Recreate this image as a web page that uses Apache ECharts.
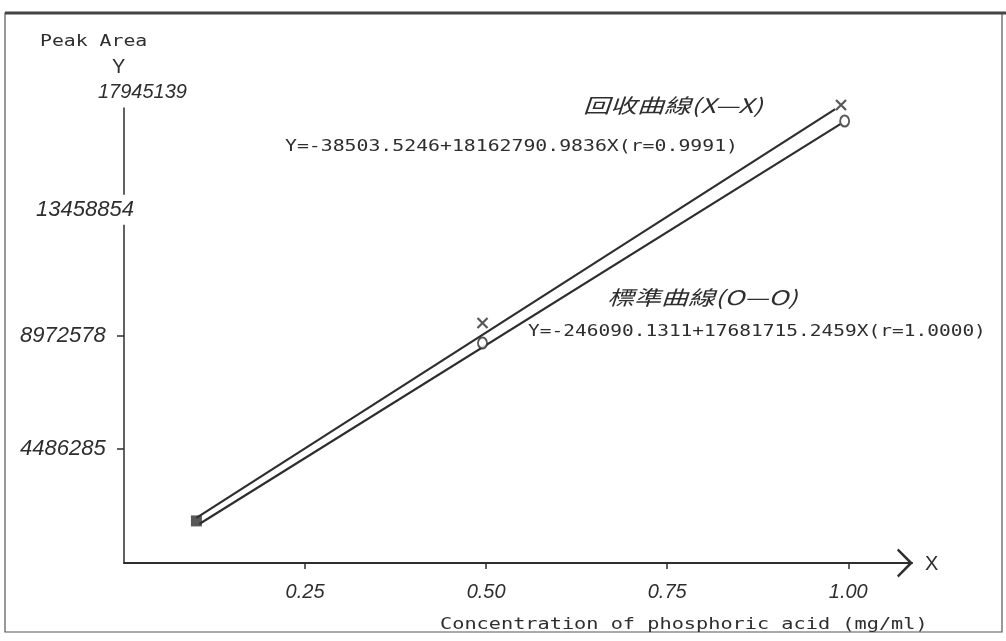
<!DOCTYPE html>
<html>
<head>
<meta charset="utf-8">
<script src="https://cdn.jsdelivr.net/npm/echarts@6/dist/echarts.min.js"></script>
<style>html,body{margin:0;padding:0;background:#fff;}#c{width:1006px;height:641px;}</style>
</head>
<body>
<div id="c"></div>
<script>
// ---- data ----
const xTicks = [0.25, 0.5, 0.75, 1.0];
const xTickLabels = ['0.25', '0.50', '0.75', '1.00'];
const yTicks = [4486285, 8972578, 13458854, 17945139];
const yTickLabels = ['4486285', '8972578', '13458854', '17945139'];
const sharedStart = [[0.1, 1660000]];
const recoveryPoints = [[0.495, 9466000], [0.99, 18064000]];
const standardPoints = [[0.495, 8677000], [0.995, 17432000]];
const recoveryLine = [[0.1, 1777776], [0.982, 17900000]];
const standardLine = [[0.104, 1540000], [0.989, 17310000]];
const recoveryName = '回收曲線(X—X)';
const standardName = '標準曲線(O—O)';
const recoveryEq = 'Y=-38503.5246+18162790.9836X(r=0.9991)';
const standardEq = 'Y=-246090.1311+17681715.2459X(r=1.0000)';
const xName = 'Concentration of phosphoric acid (mg/ml)';
const yName = 'Peak Area';

const ink = '#2e2e2e';
function hand(size) { return {fontFamily: 'Liberation Sans', fontStyle: 'italic', fontSize: size, color: ink}; }
const mono = 'DejaVu Sans Mono';

const chart = echarts.init(document.getElementById('c'), null, {renderer: 'canvas'});

const yRich = {
  y0: Object.assign({padding: [0, 0, 0, 6]}, hand(22)),
  y1: Object.assign({padding: [0, 0, 0, 6]}, hand(22)),
  y2: Object.assign({padding: [4, 0, 4, 22], backgroundColor: '#fff'}, hand(22)),
  y3: Object.assign({padding: [0, 0, 0, 84]}, hand(20)),
  sp24: {lineHeight: 24, fontSize: 10},
  sp32: {lineHeight: 32, fontSize: 10}
};

function yFmt(v) {
  const i = yTicks.indexOf(v);
  if (i < 0) return '';
  const t = yTickLabels[i];
  if (i === 2) return '{y2|' + t + '}\n{sp24| }';
  if (i === 3) return '{y3|' + t + '}\n{sp32| }';
  return '{y' + i + '|' + t + '}';
}

function monoText(txt, x, y, scale, size) {
  return {
    type: 'text', x: x, y: y, scaleX: scale, scaleY: 1,
    style: {text: txt, font: (size || 15) + 'px "' + mono + '"', fill: ink, textAlign: 'left', textVerticalAlign: 'middle'}
  };
}
function handText(txt, x, y, scale, size, family, italic) {
  return {
    type: 'text', x: x, y: y, scaleX: scale, scaleY: 1,
    style: {text: txt, font: (italic === false ? '' : 'italic ') + (size || 18) + 'px "' + (family || 'Liberation Sans') + '"', fill: ink, textAlign: 'left', textVerticalAlign: 'middle'}
  };
}

const option = {
  backgroundColor: '#fff',
  animation: false,
  grid: {left: 124, right: 94, top: 108, bottom: 78, containLabel: false},
  xAxis: {
    type: 'value', min: 0, max: 1.088, interval: 0.25,
    splitLine: {show: false},
    axisLine: {
      show: true, onZero: false,
      lineStyle: {color: ink, width: 2},
      symbol: ['none', 'path://M0,10 L10,0 L20,10 L18.6,11 L10,2.6 L1.4,11 Z'],
      symbolSize: [30, 16],
      symbolOffset: [0, -7]
    },
    axisTick: {show: true, length: 6, lineStyle: {color: ink, width: 1.5}, customValues: xTicks},
    axisLabel: Object.assign({
      customValues: xTicks, margin: 19,
      formatter: function (v) { const i = xTicks.indexOf(v); return i < 0 ? '' : xTickLabels[i]; }
    }, hand(20))
  },
  yAxis: {
    type: 'value', min: 0, max: 17945139,
    splitLine: {show: false},
    axisLine: {show: true, onZero: false, lineStyle: {color: ink, width: 1.5}},
    axisTick: {show: true, length: 7, lineStyle: {color: ink, width: 1.5}, customValues: [yTicks[0], yTicks[1]]},
    axisLabel: {customValues: yTicks, margin: 110, align: 'left', formatter: yFmt, rich: yRich}
  },
  series: [
    {name: recoveryName + ' line', type: 'line', data: recoveryLine, symbol: 'none', clip: false,
      lineStyle: {color: ink, width: 2.2}},
    {name: standardName + ' line', type: 'line', data: standardLine, symbol: 'none', clip: false,
      lineStyle: {color: ink, width: 2.2}},
    {name: recoveryName, type: 'scatter', data: recoveryPoints, clip: false,
      symbol: 'path://M0,0 L10,10 M10,0 L0,10', symbolSize: 10, z: 5,
      itemStyle: {color: 'rgba(0,0,0,0)', borderColor: ink, borderWidth: 2.2}},
    {name: standardName, type: 'scatter', data: standardPoints, clip: false,
      symbol: 'circle', symbolSize: [9, 11], z: 5,
      itemStyle: {color: '#fff', borderColor: ink, borderWidth: 2}},
    {name: 'start', type: 'scatter', data: sharedStart, clip: false,
      symbol: 'rect', symbolSize: 11, z: 5, itemStyle: {color: ink}}
  ],
  graphic: [
    {type: 'rect', shape: {x: 5, y: 13, width: 997, height: 619}, style: {fill: 'none', stroke: '#555', lineWidth: 1.2}, silent: true},
    {type: 'line', shape: {x1: 5, y1: 13, x2: 1006, y2: 13}, style: {stroke: '#444', lineWidth: 3}, silent: true},
    monoText(yName, 40, 42, 1.32, 15),
    handText('Y', 112, 67, 1, 20, 'Liberation Sans', false),
    handText('X', 925, 564, 1, 20, 'Liberation Sans', false),
    monoText(recoveryEq, 285, 147, 1.32, 15),
    monoText(standardEq, 528, 332, 1.3, 15),
    monoText(xName, 440, 625, 1.35, 15),
    handText(recoveryName, 583, 105, 1.35, 20, 'Noto Sans CJK TC'),
    handText(standardName, 607, 297, 1.35, 20, 'Noto Sans CJK TC')
  ]
};
chart.setOption(option);
</script>
</body>
</html>
